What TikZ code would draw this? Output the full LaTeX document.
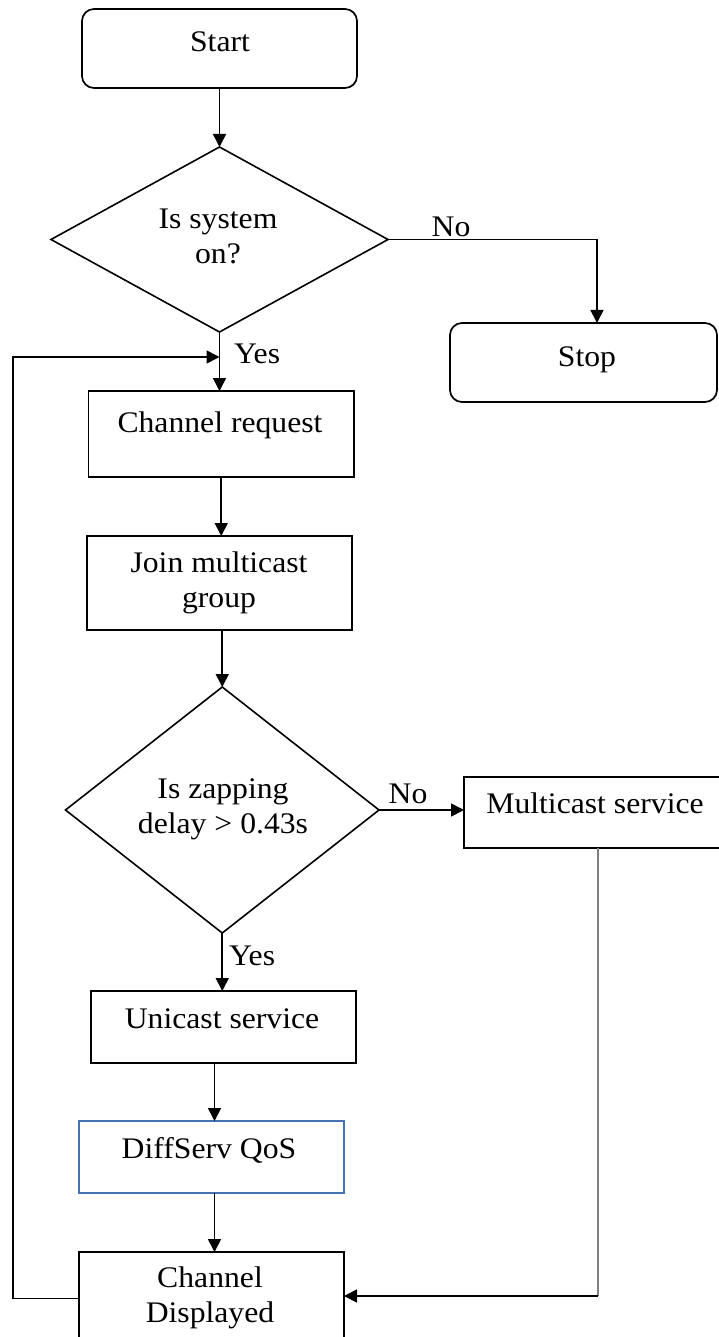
\documentclass[tikz,border=0pt]{standalone}
\usepackage{fontspec}
\setmainfont{Liberation Serif}[FakeStretch=1.06]
\usetikzlibrary{shapes.geometric,arrows.meta}
\definecolor{qosblue}{RGB}{70,114,180}
\definecolor{linegrey}{RGB}{128,128,128}
\begin{document}
\begin{tikzpicture}[x=1bp,y=-1bp,
  every node/.style={inner sep=0pt, outer sep=0pt},
  termbox/.style={draw, line width=1.7bp, rectangle, rounded corners=12bp},
  procbox/.style={draw, line width=1.7bp, rectangle},
  qosbox/.style={draw=qosblue, line width=1.3bp, rectangle},
  decision/.style={draw, line width=1.6bp, diamond},
  txt/.style={font=\fontsize{30}{35}\selectfont, align=center,
    execute at begin node=\strut, execute at end node=\strut},
  flow/.style={line width=1.7bp, -{Triangle[length=13bp,width=13bp]}},
  greyline/.style={draw=linegrey, line width=2.2bp}]

\useasboundingbox (0,0) rectangle (718,1337);

% shapes
\node[termbox, minimum width=275bp, minimum height=79bp] (start) at (219.5,48.5) {};
\node[decision, minimum width=337bp, minimum height=185bp] (d1) at (219.5,239.5) {};
\node[termbox, minimum width=267bp, minimum height=79bp] (stop) at (583.5,362.5) {};
\node[procbox, minimum width=265.5bp, minimum height=86bp] (req) at (221.25,434) {};
\node[procbox, minimum width=265bp, minimum height=94bp] (join) at (219.5,583) {};
\node[decision, minimum width=313.5bp, minimum height=246bp] (d2) at (222.25,810) {};
\node[procbox, minimum width=276bp, minimum height=71bp] (mcast) at (602,812.5) {};
\node[procbox, minimum width=265bp, minimum height=72bp] (uni) at (223.5,1027) {};
\node[qosbox, minimum width=265bp, minimum height=72bp] (qos) at (211.5,1157) {};
\node[procbox, minimum width=265bp, minimum height=93bp] (disp) at (211.5,1298.5) {};

% texts
\node[txt] (start-t) at (220,44.5) {Start};
\node[txt] (d1-t) at (218,241.5) {Is system\\on?};
\node[txt] (stop-t) at (587,360) {Stop};
\node[txt] (req-t) at (220,426) {Channel request};
\node[txt] (join-t) at (219,584.5) {Join multicast\\group};
\node[txt] (d2-t) at (223,811.5) {Is zapping\\delay > 0.43s};
\node[txt] (mcast-t) at (595,807) {Multicast service};
\node[txt] (uni-t) at (222,1022) {Unicast service};
\node[txt] (qos-t) at (209,1152) {DiffServ QoS};
\node[txt] (disp-t) at (210,1299.5) {Channel\\Displayed};

% branch labels
\node[txt] (no1) at (451,230) {No};
\node[txt, anchor=west] (yes1) at (234,357) {Yes};
\node[txt] (no2) at (408,797) {No};
\node[txt, anchor=west] (yes2) at (229,959) {Yes};

% helper coordinates
\coordinate (nox) at (597,0);
\coordinate (merge) at (219.5,357);
\coordinate (loopx) at (13,0);
\coordinate (qx) at (214.5,0);
\coordinate (retcorner) at (598,1296);

% connectors
\draw[flow] (start.south) -- (d1.north);
\draw[flow] (d1.east) -| (stop.north -| nox);
\draw[flow] (d1.south) -- (d1.south |- req.north);
\draw[flow] (disp.west) -- (disp.west -| loopx) |- (merge);
\draw[flow] (req.south) -- (req.south |- join.north);
\draw[flow] (d2.north |- join.south) -- (d2.north);
\draw[flow] (d2.east) -- (d2.east -| mcast.west);
\draw[flow] (d2.south) -- (d2.south |- uni.north);
\draw[flow] (uni.south -| qx) -- (qos.north -| qx);
\draw[flow] (qos.south -| qx) -- (disp.north -| qx);
\draw[greyline] (mcast.south -| retcorner) -- (retcorner);
\draw[flow] (retcorner) -- (disp.east |- retcorner);
\end{tikzpicture}
\end{document}
